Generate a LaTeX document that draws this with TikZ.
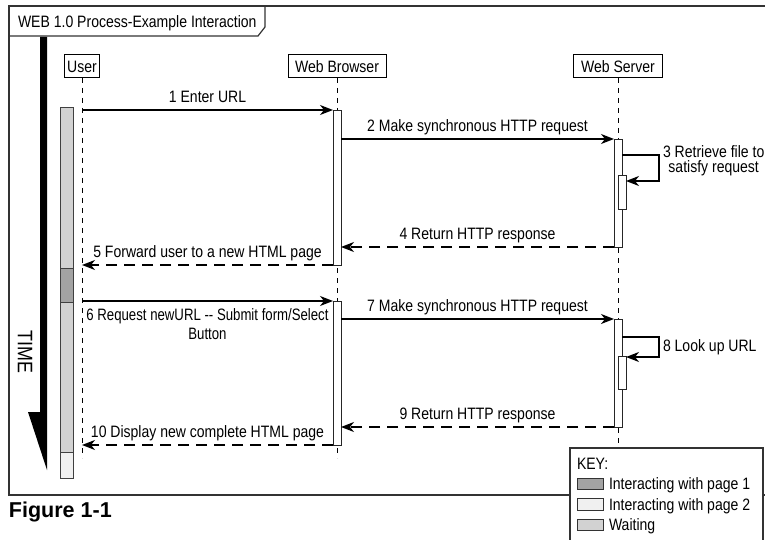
\documentclass[tikz,border=0pt]{standalone}
\usepackage{fontspec}
\setmainfont{Liberation Sans}[FakeStretch=0.85]
\newfontfamily\figfont{Liberation Sans}
\newfontfamily\narrowfont{Liberation Sans}[FakeStretch=0.8]
\usetikzlibrary{arrows.meta,calc}
\definecolor{framec}{HTML}{333333}
\definecolor{pageone}{HTML}{A3A3A3}
\definecolor{pagetwo}{HTML}{F0F0F0}
\definecolor{waitc}{HTML}{D2D2D2}
\begin{document}
\begin{tikzpicture}[x=1pt,y=-1pt,
  every node/.style={font=\fontsize{16.5}{19}\selectfont, inner sep=0pt, outer sep=0pt},
  head/.style={draw=black, line width=1pt, fill=white, minimum height=23pt, anchor=north},
  lifeline/.style={draw=black, line width=0.9pt, dash pattern=on 5pt off 5pt},
  bar/.style={draw=black!85, line width=0.9pt, fill=white, minimum width=8pt, anchor=north},
  ubar/.style={draw=black!75, line width=0.9pt, minimum width=13pt, anchor=north},
  msg/.style={line width=1.5pt, -{Stealth[length=13pt,width=10pt,inset=4pt]}},
  ret/.style={msg, dash pattern=on 11pt off 7pt},
  lblup/.style={anchor=base, yshift=7.5pt},
  lbldown/.style={anchor=north, yshift=-7.5pt, align=center},
  swatch/.style={draw=black!80, line width=0.9pt, minimum width=26pt, minimum height=11.5pt, anchor=north west}
]
\useasboundingbox (0,0) rectangle (765,540);
% frame and title tab
\draw[framec, line width=1.2pt] (9,6) rectangle (775,495);
\draw[framec, line width=1.2pt] (9,36) -- (258,36) -- (265,27) -- (265,6);
\node[anchor=base west] (title) at (18,28) {WEB 1.0 Process-Example Interaction};
% time arrow
\fill[black] (40,37) -- (47,37) -- (47,470) -- (28,412) -- (40,412) -- cycle;
\node[rotate=-90, font=\fontsize{21}{24}\selectfont] (time) at (25,352) {TIME};
% lifeline heads
\node[head, minimum width=35pt] (user) at (82,55) {User};
\node[head, minimum width=98pt] (browser) at (337,55) {Web Browser};
\node[head, minimum width=89pt] (server) at (618,55) {Web Server};
\coordinate (uend) at (82,458);
\coordinate (bend) at (337,458);
\coordinate (send) at (618,448);
\draw[lifeline] (user.south) -- (uend);
\draw[lifeline] (browser.south) -- (bend);
\draw[lifeline] (server.south) -- (send);
% user activity bar
\node[ubar, fill=waitc, minimum height=161pt] (ua1) at (66.5,107) {};
\node[ubar, fill=pageone, minimum height=34pt] (ua2) at (ua1.south) {};
\node[ubar, fill=waitc, minimum height=150pt] (ua3) at (ua2.south) {};
\node[ubar, fill=pagetwo, minimum height=26pt] (ua4) at (ua3.south) {};
% activation bars
\node[bar, minimum height=155pt] (bb1) at (337,110) {};
\node[bar, minimum height=144pt] (bb2) at (337,301) {};
\node[bar, minimum height=108pt] (sb1) at (618,139) {};
\node[bar, minimum height=34pt] (sn1) at (622,175) {};
\node[bar, minimum height=108pt] (sb2) at (618,319) {};
\node[bar, minimum height=33pt] (sn2) at (622,356) {};
% messages
\draw[msg] (bb1.north west -| user.south) -- node[lblup] (l1) {1 Enter URL} (bb1.north west);
\draw[msg] (bb1.east |- sb1.north) -- node[lblup] (l2) {2 Make synchronous HTTP request} (sb1.north west);
\draw[msg] ($(sb1.north east)+(0,16)$) -- ++(37,0) |- ($(sn1.north east)+(0,6)$);
\node[anchor=north west, align=center, font=\fontsize{16.5}{15}\selectfont] (l3) at (663,146) {3 Retrieve file to\\satisfy request};
\draw[ret] (sb1.south west) -- node[lblup] (l4) {4 Return HTTP response} (sb1.south west -| bb1.east);
\draw[ret] (bb1.south west) -- node[lblup] (l5) {5 Forward user to a new HTML page} (bb1.south west -| user.south);
\draw[msg] (bb2.north west -| user.south) -- node[lbldown, font=\narrowfont\fontsize{16.5}{19}\selectfont] (l6) {6 Request newURL -{}- Submit form/Select\\Button} (bb2.north west);
\draw[msg] (bb2.east |- sb2.north) -- node[lblup] (l7) {7 Make synchronous HTTP request} (sb2.north west);
\draw[msg] ($(sb2.north east)+(0,18)$) -- ++(37,0) |- ($(sn2.north east)+(0,1)$);
\node[anchor=base west] (l8) at (663,351) {8 Look up URL};
\draw[ret] (sb2.south west) -- node[lblup] (l9) {9 Return HTTP response} (sb2.south west -| bb2.east);
\draw[ret] (bb2.south west) -- node[lblup] (l10) {10 Display new complete HTML page} (bb2.south west -| user.south);
% key
\filldraw[draw=framec, fill=white, line width=1.1pt] (570,448) rectangle (763,552);
\node[anchor=base west] (keyt) at (577,469) {KEY:};
\node[swatch, fill=pageone] (k1) at (577,478) {};
\node[anchor=base west] (k1t) at (609,489.5) {Interacting with page 1};
\node[swatch, fill=pagetwo] (k2) at (577,498.5) {};
\node[anchor=base west] (k2t) at (609,510) {Interacting with page 2};
\node[swatch, fill=waitc] (k3) at (577,519) {};
\node[anchor=base west] (k3t) at (609,530.5) {Waiting};
% caption
\node[anchor=base west, font=\figfont\bfseries\fontsize{21.5}{24}\selectfont] (fig) at (9,517) {Figure 1-1};
\end{tikzpicture}
\end{document}
